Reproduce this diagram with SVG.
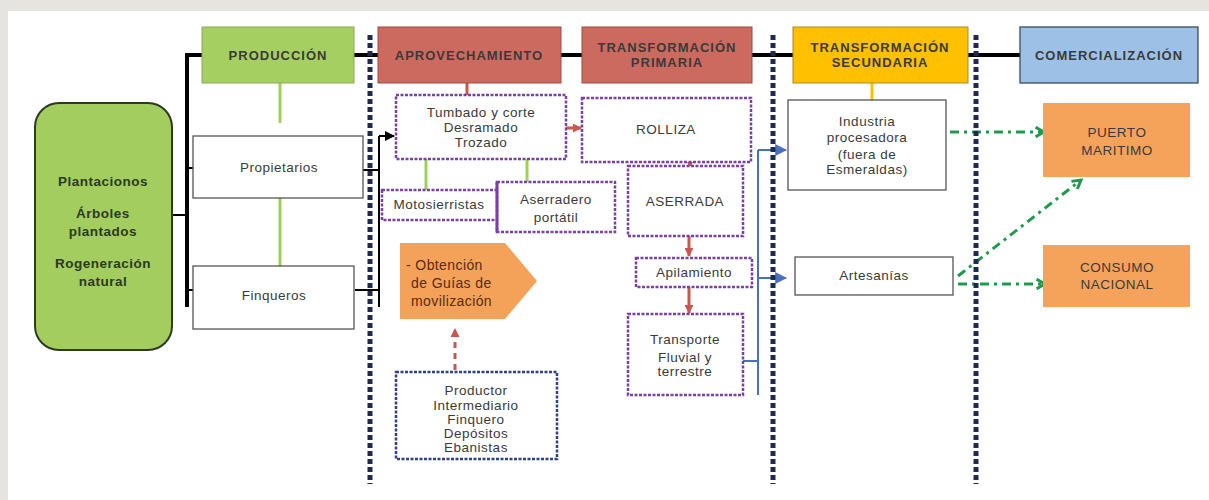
<svg xmlns="http://www.w3.org/2000/svg" width="1209" height="500" viewBox="0 0 1209 500">
<style>
.hdr{font-family:"Liberation Sans",Arial,sans-serif;font-weight:bold;font-size:13px;fill:#3a3a3a;text-anchor:middle;letter-spacing:1px}
.txt{font-family:"Liberation Sans",Arial,sans-serif;font-size:13.5px;fill:#3a3a3a;text-anchor:middle;letter-spacing:0.5px}
.bold{font-family:"Liberation Sans",Arial,sans-serif;font-weight:bold;font-size:13.5px;fill:#2b3a1f;text-anchor:middle;letter-spacing:0.5px}
.orn{font-family:"Liberation Sans",Arial,sans-serif;font-size:14px;fill:#5a2a14;letter-spacing:0.4px}
.dot{fill:#fff;stroke:#7a3fa8;stroke-width:2.5;stroke-dasharray:3 1.5}
.solid{fill:#fff;stroke:#555;stroke-width:1.3}
.sep{stroke:#1f2a52;stroke-width:5;stroke-dasharray:5 3;fill:none}
.red{stroke:#c9574f;stroke-width:3;fill:none}
.lg{stroke:#9fd15a;stroke-width:3;fill:none}
.blk{stroke:#000;fill:none}
.blue{stroke:#4a6fc0;stroke-width:2;fill:none}
.grn{stroke:#1e9a4c;stroke-width:3;fill:none;stroke-dasharray:9 5 3 5}
</style>
<defs>
<marker id="mBlk" viewBox="0 0 10 10" refX="9" refY="5" markerWidth="5" markerHeight="5" orient="auto"><path d="M0,0 L10,5 L0,10 z" fill="#000"/></marker>
<marker id="mRed" viewBox="0 0 10 10" refX="9" refY="5" markerWidth="3" markerHeight="3" orient="auto"><path d="M0,0 L10,5 L0,10 z" fill="#c9574f"/></marker>
<marker id="mBlue" viewBox="0 0 10 10" refX="9" refY="5" markerWidth="6" markerHeight="6" orient="auto"><path d="M0,0 L10,5 L0,10 z" fill="#4a6fc0"/></marker>
<marker id="mGrn" viewBox="0 0 10 10" refX="8" refY="5" markerWidth="4" markerHeight="4" orient="auto"><path d="M1,1 L8,5 L1,9" fill="none" stroke="#1e9a4c" stroke-width="2.5"/></marker>
</defs>
<rect x="0" y="0" width="1209" height="500" fill="#e6e4e1"/>
<rect x="8" y="11" width="1201" height="489" fill="#fff"/>

<g id="connectors">
<path class="blk" stroke-width="4" d="M187,307 V55 H1020"/>
<path class="blk" stroke-width="2" d="M172,215 H187 M187,168 H193 M187,290 H193"/>
<path class="blk" stroke-width="2" d="M363,170 H379 M355,290 H379 M379,307 V136"/>
<path class="blk" stroke-width="2" d="M379,136 H394" marker-end="url(#mBlk)"/>
<path class="lg" d="M280,83 V123 M280,198 V266"/>
<path class="lg" d="M426,159 V190 M527,159 V182"/>
<path class="red" d="M467,83 V95"/>
<path class="red" d="M566,128 H581" marker-end="url(#mRed)"/>
<path class="red" d="M690,158 V167" marker-end="url(#mRed)"/>
<path class="red" d="M689,236 V256" marker-end="url(#mRed)"/>
<path class="red" d="M689,287 V313" marker-end="url(#mRed)"/>
<path class="red" stroke-dasharray="6 5" d="M455,370 V329" marker-end="url(#mRed)"/>
<path style="stroke:#ffc000;stroke-width:3" d="M872,83 V100"/>
<path class="blue" d="M743,361 H758 M758,395 V150"/>
<path class="blue" d="M758,150 H786" marker-end="url(#mBlue)"/>
<path class="blue" d="M758,278 H786" marker-end="url(#mBlue)"/>
<path class="grn" d="M950,132 H1044" marker-end="url(#mGrn)"/>
<path class="grn" d="M958,276 L1081,180" marker-end="url(#mGrn)"/>
<path class="grn" d="M958,284 H1045" marker-end="url(#mGrn)"/>
<path class="sep" d="M370,35 V484 M773,35 V484 M976,35 V484"/>
</g>

<g id="origen">
<rect x="35" y="103" width="137" height="247" rx="24" fill="#a3cd5e" stroke="#2d3a20" stroke-width="2"/>
<text class="bold" x="103" y="186">Plantacionos</text>
<text class="bold" x="103" y="218">Árboles</text>
<text class="bold" x="103" y="236">plantados</text>
<text class="bold" x="103" y="268">Rogeneración</text>
<text class="bold" x="103" y="286">natural</text>
</g>

<g id="produccion">
<rect x="202" y="27" width="152" height="56" fill="#a6cf62" stroke="#8aa856" stroke-width="1"/>
<text class="hdr" x="278" y="60">PRODUCCIÓN</text>
</g>
<g id="aprovechamiento">
<rect x="378" y="27" width="183" height="56" fill="#cd6a5f" stroke="#9d4a42" stroke-width="1"/>
<text class="hdr" x="469" y="60">APROVECHAMIENTO</text>
</g>
<g id="tprimaria">
<rect x="582" y="27" width="170" height="56" fill="#cd6a5f" stroke="#9d4a42" stroke-width="1"/>
<text class="hdr" x="667" y="52">TRANSFORMACIÓN</text>
<text class="hdr" x="667" y="67">PRIMARIA</text>
</g>
<g id="tsecundaria">
<rect x="793" y="27" width="175" height="56" fill="#ffc000" stroke="#a88a2a" stroke-width="1"/>
<text class="hdr" x="880" y="52">TRANSFORMACIÓN</text>
<text class="hdr" x="880" y="67">SECUNDARIA</text>
</g>
<g id="comercializacion">
<rect x="1020" y="27" width="178" height="56" fill="#9dc1e6" stroke="#3a4a5a" stroke-width="1.3"/>
<text class="hdr" x="1109" y="60">COMERCIALIZACIÓN</text>
</g>

<g id="propietarios">
<rect class="solid" x="193" y="136" width="170" height="62"/>
<text class="txt" x="279" y="172">Propietarios</text>
</g>
<g id="finqueros">
<rect class="solid" x="193" y="266" width="161" height="63"/>
<text class="txt" x="274" y="300">Finqueros</text>
</g>

<g id="tumbado">
<rect class="dot" x="396" y="95" width="170" height="64"/>
<text class="txt" x="481" y="117">Tumbado y corte</text>
<text class="txt" x="481" y="132">Desramado</text>
<text class="txt" x="481" y="147">Trozado</text>
</g>
<g id="motosierristas">
<rect class="dot" x="382" y="190" width="120" height="30"/>
<text class="txt" x="439" y="209">Motosierristas</text>
</g>
<g id="aserradero">
<rect class="dot" x="497" y="182" width="118" height="50"/>
<path d="M497,182 V232" stroke="#7a3fa8" stroke-width="3"/>
<text class="txt" x="556" y="204">Aserradero</text>
<text class="txt" x="556" y="222">portátil</text>
</g>
<g id="guias">
<path d="M400,243 H505 L537,281 L505,319 H400 Z" fill="#f4a259"/>
<text class="orn" x="406" y="270">- Obtención</text>
<text class="orn" x="411" y="288">de Guías de</text>
<text class="orn" x="411" y="306">movilización</text>
</g>
<g id="productor">
<rect x="396" y="372" width="161" height="87" fill="#fff" stroke="#2f3f8f" stroke-width="2.5" stroke-dasharray="3 1.5"/>
<text class="txt" x="476" y="395">Productor</text>
<text class="txt" x="476" y="410">Intermediario</text>
<text class="txt" x="476" y="424">Finquero</text>
<text class="txt" x="476" y="438">Depósitos</text>
<text class="txt" x="476" y="452">Ebanistas</text>
</g>

<g id="rolliza">
<rect class="dot" x="582" y="98" width="169" height="64"/>
<text class="txt" x="666" y="134">ROLLIZA</text>
</g>
<g id="aserrada">
<rect class="dot" x="628" y="166" width="115" height="70"/>
<text class="txt" x="685" y="206">ASERRADA</text>
</g>
<g id="apilamiento">
<rect class="dot" x="636" y="258" width="116" height="29"/>
<text class="txt" x="694" y="277">Apilamiento</text>
</g>
<g id="transporte">
<rect class="dot" x="628" y="314" width="115" height="81"/>
<text class="txt" x="685" y="344">Transporte</text>
<text class="txt" x="685" y="362">Fluvial y</text>
<text class="txt" x="685" y="376">terrestre</text>
</g>

<g id="industria">
<rect class="solid" x="788" y="100" width="158" height="90"/>
<text class="txt" x="867" y="126">Industria</text>
<text class="txt" x="867" y="142">procesadora</text>
<text class="txt" x="867" y="159">(fuera de</text>
<text class="txt" x="867" y="174">Esmeraldas)</text>
</g>
<g id="artesanias">
<rect class="solid" x="795" y="257" width="158" height="38"/>
<text class="txt" x="874" y="280">Artesanías</text>
</g>

<g id="puerto">
<rect x="1043" y="103" width="147" height="74" fill="#f5a35a"/>
<text class="txt" x="1117" y="137">PUERTO</text>
<text class="txt" x="1117" y="155">MARITIMO</text>
</g>
<g id="consumo">
<rect x="1043" y="245" width="147" height="62" fill="#f5a35a"/>
<text class="txt" x="1117" y="272">CONSUMO</text>
<text class="txt" x="1117" y="289">NACIONAL</text>
</g>
</svg>
